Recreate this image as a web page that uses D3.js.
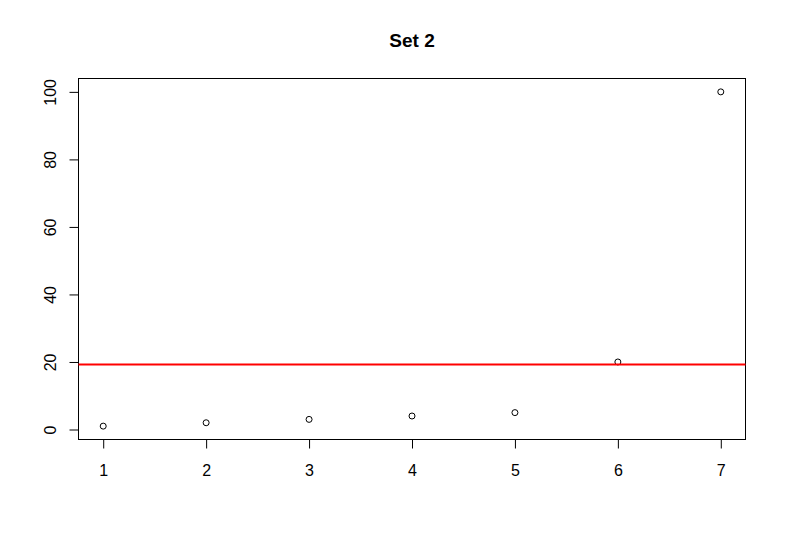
<!DOCTYPE html>
<html><head><meta charset="utf-8">
<script src="https://cdn.jsdelivr.net/npm/d3@7"></script>
<style>body{margin:0;background:#fff}svg{display:block}</style>
</head><body>
<script>
const xValues = [1, 2, 3, 4, 5, 6, 7];
const yValues = [1, 2, 3, 4, 5, 20, 100];
const xTicks = [1, 2, 3, 4, 5, 6, 7];
const yTicks = [0, 20, 40, 60, 80, 100];
const title = "Set 2";
const meanValue = d3.mean(yValues);

const W = 786, H = 538;
const L = 78.5, R = 745.5, T = 78.5, B = 439.5;
const svg = d3.select("body").append("svg").attr("width", W).attr("height", H);

const x = d3.scaleLinear().domain([0.76, 7.24]).range([L, R]);
const y = d3.scaleLinear().domain([-2.96, 103.96]).range([B, T]);
const font = "'Liberation Sans', Arial, sans-serif";

svg.append("text").attr("x", (L + R) / 2).attr("y", 47)
  .attr("text-anchor", "middle").attr("font-family", font)
  .attr("font-weight", "bold").attr("font-size", 19).text(title);

// x axis
const xAxis = svg.append("g").attr("transform", `translate(0,${B})`)
  .call(d3.axisBottom(x).tickValues(xTicks).tickSize(9).tickPadding(16).tickFormat(d3.format("d")));
xAxis.select(".domain").remove();
xAxis.selectAll("line").attr("stroke", "#000");
xAxis.selectAll("text").attr("font-family", font).attr("font-size", 16).attr("fill", "#000");

// y axis
const yAxis = svg.append("g").attr("transform", `translate(${L},0)`)
  .call(d3.axisLeft(y).tickValues(yTicks).tickSize(9).tickFormat(d3.format("d")));
yAxis.select(".domain").remove();
yAxis.selectAll("line").attr("stroke", "#000");
yAxis.selectAll("text").attr("font-family", font).attr("font-size", 16).attr("fill", "#000")
  .attr("text-anchor", "middle").attr("x", null).attr("dy", null)
  .attr("transform", "translate(-29,0) rotate(-90) translate(0,6)");

// plot box
svg.append("rect").attr("x", L).attr("y", T).attr("width", R - L).attr("height", B - T)
  .attr("fill", "none").attr("stroke", "#000").attr("stroke-width", 1);

// points
svg.append("g").selectAll("circle").data(xValues.map((d, i) => [d, yValues[i]])).join("circle")
  .attr("cx", d => x(d[0])).attr("cy", d => y(d[1])).attr("r", 3)
  .attr("fill", "none").attr("stroke", "#000").attr("stroke-width", 1);

// mean line
svg.append("line").attr("x1", L).attr("x2", R).attr("y1", y(meanValue)).attr("y2", y(meanValue))
  .attr("stroke", "#ff0000").attr("stroke-width", 2);
</script>
</body></html>
